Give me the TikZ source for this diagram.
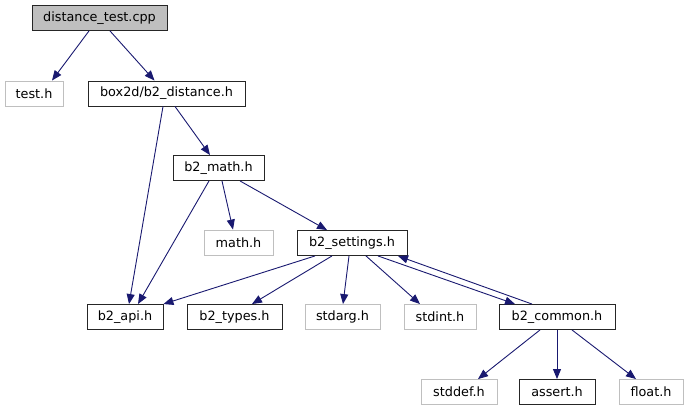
\documentclass[tikz,border=0pt]{standalone}
\usepackage{fontspec}
\setmainfont{DejaVu Sans}
\usetikzlibrary{arrows.meta}
\definecolor{edgeblue}{HTML}{191970}
\definecolor{boxgray}{HTML}{BFBFBF}

\begin{document}
\begin{tikzpicture}[x=1pt,y=-1pt,
  every node/.style={font=\fontsize{12.8}{15}\selectfont},
  hdr/.style={draw=black!85,line width=0.9pt,minimum height=25,inner sep=0pt},
  sys/.style={draw=boxgray,line width=0.9pt,minimum height=25,inner sep=0pt},
  edge/.style={draw=edgeblue,line width=0.9pt,-{Triangle[length=10pt,width=8pt]}}]
\useasboundingbox (0,0) rectangle (687,411);
% files
\node[hdr,fill=boxgray,minimum width=135] (dtcpp) at (99.5,18) {distance\_test.cpp};
\node[sys,minimum width=58] (testh) at (34,93.5) {test.h};
\node[hdr,minimum width=157] (b2dist) at (166.5,93.5) {box2d/b2\_distance.h};
\node[hdr,minimum width=91] (b2math) at (218.5,168) {b2\_math.h};
\node[sys,minimum width=69] (mathh) at (238.5,242.5) {math.h};
\node[hdr,minimum width=110] (b2set) at (352,243) {b2\_settings.h};
\node[hdr,minimum width=76] (b2api) at (125,317) {b2\_api.h};
\node[hdr,minimum width=95] (b2types) at (234.5,317) {b2\_types.h};
\node[sys,minimum width=75] (stdarg) at (342.5,317) {stdarg.h};
\node[sys,minimum width=72] (stdint) at (440,317) {stdint.h};
\node[hdr,minimum width=116] (b2common) at (557,317) {b2\_common.h};
\node[sys,minimum width=76] (stddef) at (459,392) {stddef.h};
\node[hdr,minimum width=76] (asserth) at (557,392) {assert.h};
\node[sys,minimum width=64] (floath) at (651,392) {float.h};
% includes
\draw[edge] ([xshift=-10.5]dtcpp.south) -- ([xshift=18]testh.north);
\draw[edge] ([xshift=10.5]dtcpp.south) -- ([xshift=-12]b2dist.north);
\draw[edge] ([xshift=8.5]b2dist.south) -- ([xshift=-8.5]b2math.north);
\draw[edge] ([xshift=-3.5]b2dist.south) -- ([xshift=4]b2api.north);
\draw[edge] ([xshift=-9.5]b2math.south) -- ([xshift=13]b2api.north);
\draw[edge] ([xshift=3.5]b2math.south) -- ([xshift=-5.5]mathh.north);
\draw[edge] ([xshift=21.5]b2math.south) -- ([xshift=-25]b2set.north);
\draw[edge] ([xshift=-37]b2set.south) -- (b2api.north east);
\draw[edge] ([xshift=-20]b2set.south) -- ([xshift=17.5]b2types.north);
\draw[edge] ([xshift=-3]b2set.south) -- ([xshift=0.5]stdarg.north);
\draw[edge] ([xshift=14]b2set.south) -- ([xshift=-20]stdint.north);
\draw[edge] ([xshift=26]b2set.south) -- ([xshift=-42]b2common.north);
\draw[edge] ([xshift=-25]b2common.north) -- ([xshift=46]b2set.south);
\draw[edge] ([xshift=-17]b2common.south) -- ([xshift=19]stddef.north);
\draw[edge] (b2common.south) -- (asserth.north);
\draw[edge] ([xshift=15]b2common.south) -- ([xshift=-15]floath.north);
\end{tikzpicture}
\end{document}
